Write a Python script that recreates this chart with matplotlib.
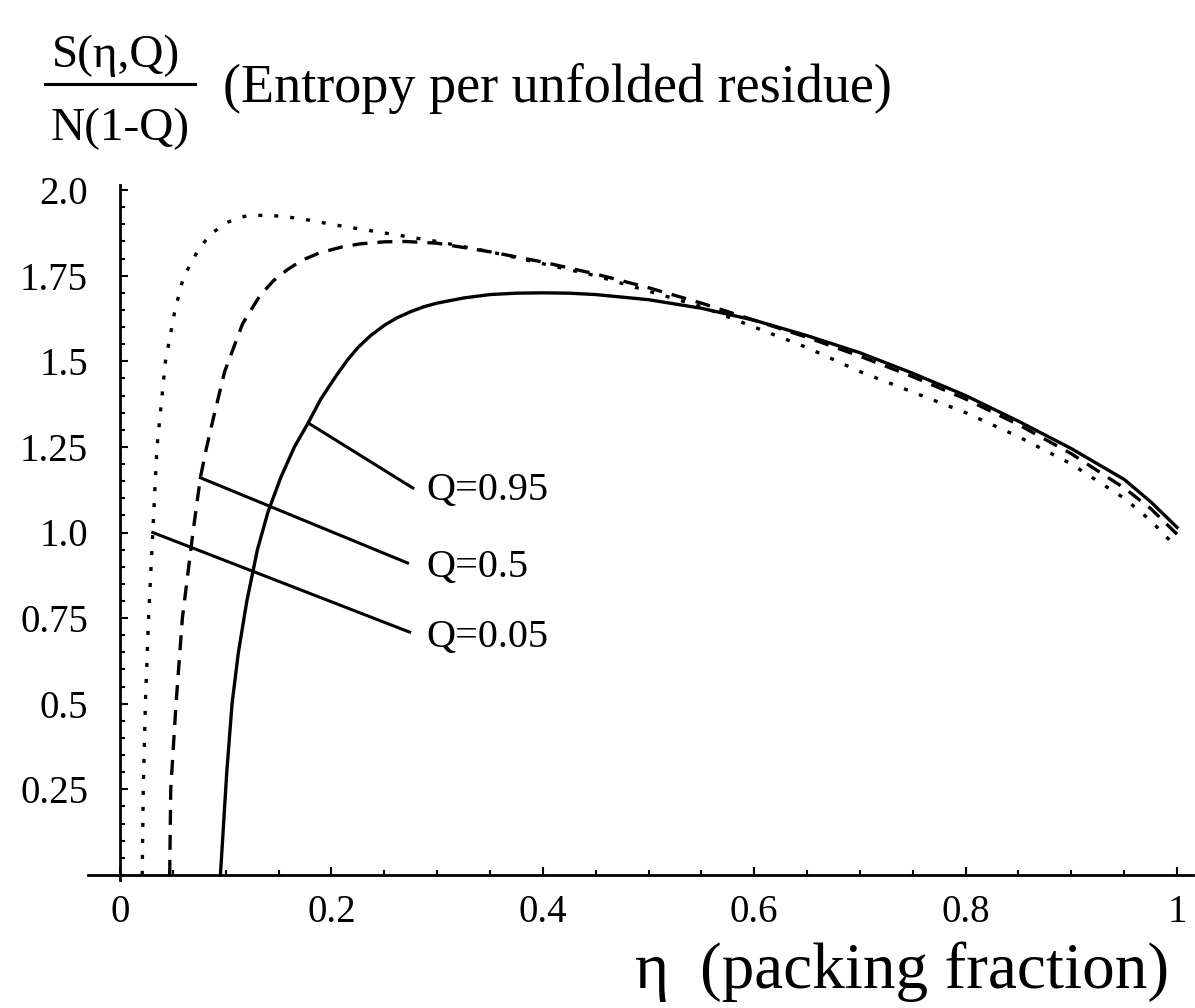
import numpy as np
import matplotlib
matplotlib.use("Agg")
import matplotlib.pyplot as plt
from matplotlib.lines import Line2D

# values (eta, S/N(1-Q))
eta_q005 = [0.021, 0.022, 0.024, 0.027, 0.031, 0.035, 0.043, 0.052, 0.060, 0.073, 0.085,
            0.101, 0.110, 0.120, 0.140, 0.160, 0.180, 0.200, 0.250, 0.300, 0.350, 0.400,
            0.450, 0.500, 0.550, 0.600, 0.650, 0.700, 0.750, 0.800, 0.850, 0.900, 0.950,
            0.975, 1.000]
s_q005 = [0.0, 0.25, 0.5, 0.75, 1.0, 1.25, 1.5, 1.65, 1.745, 1.82, 1.87,
          1.905, 1.917, 1.925, 1.927, 1.921, 1.912, 1.90, 1.875, 1.85, 1.82, 1.785,
          1.75, 1.705, 1.66, 1.60, 1.54, 1.47, 1.41, 1.35, 1.28, 1.20, 1.10,
          1.035, 0.955]

eta_q05 = [0.047, 0.048, 0.053, 0.059, 0.069, 0.076, 0.082, 0.088, 0.099, 0.116, 0.132,
           0.145, 0.158, 0.172, 0.189, 0.210, 0.227, 0.250, 0.270, 0.300, 0.350, 0.400,
           0.450, 0.500, 0.550, 0.600, 0.650, 0.700, 0.750, 0.800, 0.850, 0.900, 0.950,
           0.975, 1.000]
s_q05 = [0.0, 0.25, 0.5, 0.75, 1.0, 1.16, 1.25, 1.33, 1.47, 1.61, 1.69,
         1.735, 1.767, 1.795, 1.817, 1.834, 1.843, 1.849, 1.85, 1.845, 1.82, 1.79,
         1.755, 1.715, 1.67, 1.62, 1.57, 1.515, 1.455, 1.39, 1.315, 1.23, 1.13,
         1.07, 0.995]

eta_q095 = [0.095, 0.098, 0.101, 0.106, 0.112, 0.120, 0.130, 0.140, 0.152, 0.165, 0.178,
            0.190, 0.205, 0.215, 0.225, 0.237, 0.250, 0.262, 0.275, 0.287, 0.300, 0.325,
            0.350, 0.375, 0.400, 0.425, 0.450, 0.500, 0.550, 0.600, 0.650, 0.700, 0.750,
            0.800, 0.850, 0.900, 0.950, 0.975, 1.000]
s_q095 = [0.0, 0.15, 0.3, 0.5, 0.65, 0.8, 0.95, 1.06, 1.16, 1.25, 1.32,
          1.39, 1.46, 1.503, 1.54, 1.575, 1.605, 1.627, 1.645, 1.659, 1.67, 1.685,
          1.695, 1.699, 1.70, 1.699, 1.695, 1.68, 1.655, 1.62, 1.575, 1.525, 1.465,
          1.40, 1.325, 1.245, 1.155, 1.09, 1.015]

labels = ["Q=0.95", "Q=0.5", "Q=0.05"]
xticks = [0, 0.2, 0.4, 0.6, 0.8, 1.0]
xticklabels = ["0", "0.2", "0.4", "0.6", "0.8", "1"]
yticks = [0.25, 0.5, 0.75, 1.0, 1.25, 1.5, 1.75, 2.0]
yticklabels = ["0.25", "0.5", "0.75", "1.0", "1.25", "1.5", "1.75", "2.0"]

plt.rcParams['font.family'] = ['Liberation Serif', 'DejaVu Serif']

W, H = 1195, 1008
fig = plt.figure(figsize=(W / 100, H / 100), dpi=100)
ax = fig.add_axes([88.3 / W, 128 / H, 1104.6 / W, 695 / H])
ax.set_xlim(-0.03, 1.015)
ax.set_ylim(-0.015, 2.015)

lw = 2.4
ax.plot(eta_q005, s_q005, color='k', lw=lw, dashes=(1.2, 3.6))
ax.plot(eta_q05, s_q05, color='k', lw=lw, dashes=(4.5, 3.0))
ax.plot(eta_q095, s_q095, color='k', lw=lw, solid_joinstyle='round')

# label leader lines
ann = [((0.178, 1.32), (0.277, 1.13), 1.124),
       ((0.076, 1.16), (0.272, 0.911), 0.899),
       ((0.031, 1.0), (0.274, 0.709), 0.692)]
for (xy, end, ty), lab in zip(ann, labels):
    ax.plot([xy[0], end[0]], [xy[1], end[1]], color='k', lw=2.2)
    ax.text(0.29, ty, lab, fontsize=29, ha='left', va='center')

for side in ['top', 'right']:
    ax.spines[side].set_visible(False)
ax.spines['left'].set_position(('data', 0))
ax.spines['bottom'].set_position(('data', 0))
ax.spines['left'].set_linewidth(2.0)
ax.spines['bottom'].set_linewidth(2.0)

ax.set_xticks(xticks)
ax.set_xticklabels(xticklabels)
ax.set_xticks(np.arange(0, 1.001, 0.05), minor=True)
ax.set_yticks(yticks)
ax.set_yticklabels(yticklabels)
ax.set_yticks(np.arange(0, 2.001, 0.05), minor=True)
ax.tick_params(which='both', direction='in', width=1.5, labelsize=28)
ax.tick_params(which='major', length=6)
ax.tick_params(which='minor', length=3.5)
ax.tick_params(axis='y', which='major', pad=23)
ax.tick_params(axis='x', which='major', pad=14)

# title as a fraction plus caption
fig.text(116 / W, 1 - 67 / H, 'S(η,Q)', fontsize=34, ha='center', va='baseline')
fig.add_artist(Line2D([45 / W, 195 / W], [1 - 84 / H] * 2, lw=2.2, color='k'))
fig.text(120 / W, 1 - 140 / H, 'N(1-Q)', fontsize=34, ha='center', va='baseline')
fig.text(223 / W, 1 - 102 / H, '(Entropy per unfolded residue)', fontsize=39,
         ha='left', va='baseline')

# axis label
fig.text(652 / W, 1 - 988 / H, 'η', fontsize=47, ha='center', va='baseline')
fig.text(700 / W, 1 - 988 / H, '(packing fraction)', fontsize=47, ha='left', va='baseline')

fig.savefig('out.png', dpi=100)
